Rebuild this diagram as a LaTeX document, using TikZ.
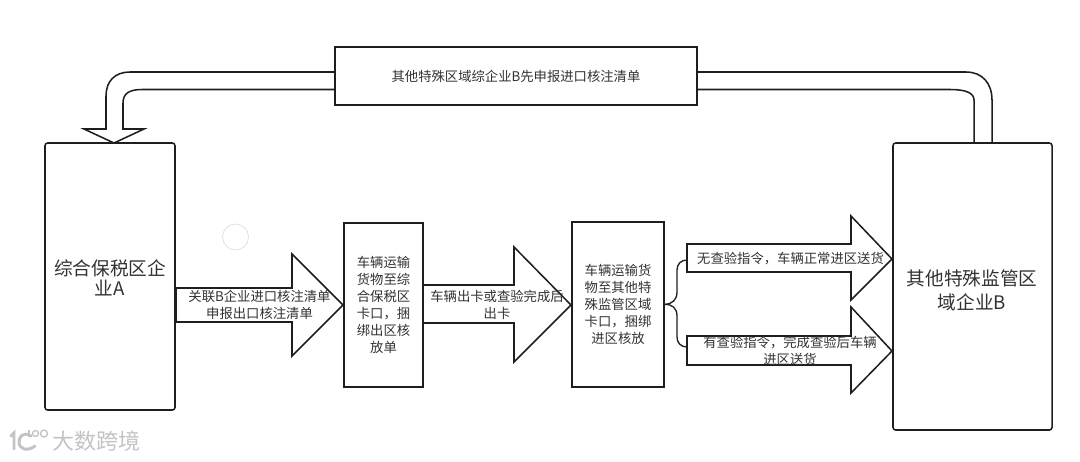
\documentclass[tikz,border=0pt]{standalone}
\usepackage{fontspec}
\setmainfont{Noto Sans CJK SC}
\usetikzlibrary{calc,positioning}
\definecolor{inkline}{RGB}{30,30,30}
\definecolor{inktext}{RGB}{50,50,50}
\definecolor{wmgray}{RGB}{195,195,195}
\def\px{0.75pt}
\tikzset{
  procbox/.style={draw=inkline,line width=1.15pt,inner sep=0pt,align=center,text=inktext,
    font=\fontsize{10}{12.75}\selectfont},
  firmbox/.style={procbox,rounded corners=2pt},
  blockline/.style={draw=inkline,line width=1.15pt,line join=miter},
  arrowtext/.style={inner sep=0pt,align=center,text=inktext,font=\fontsize{10}{12.75}\selectfont},
  firmtext/.style={arrowtext,font=\fontsize{14}{15}\selectfont},
}
\begin{document}
\begin{tikzpicture}[x=0.75pt,y=-0.75pt]
  \useasboundingbox (0,0) rectangle (1080,461);
  % boxes
  \node[firmbox,minimum width=130*\px,minimum height=267*\px] (firmA) at (110,276.5) {};
  \node[firmbox,minimum width=159*\px,minimum height=287*\px] (firmB) at (972.5,286.5) {};
  \node[firmtext] (firmAtext) at (110,278) {综合保税区企\\业A};
  \node[firmtext] (firmBtext) at (972,290.5) {其他特殊监管区\\[3.5pt]域企业B};
  \node[procbox,minimum width=362*\px,minimum height=58*\px] (notice) at (516,76) {其他特殊区域综企业B先申报进口核注清单};
  \node[procbox,minimum width=79*\px,minimum height=164*\px] (gateA) at (383.5,305) {车辆运输\\货物至综\\合保税区\\卡口，捆\\绑出区核\\放单};
  \node[procbox,minimum width=92*\px,minimum height=165*\px] (gateB) at (618,304.5) {车辆运输货\\物至其他特\\殊监管区域\\卡口，捆绑\\进区核放};
  % top bent arrow, from the notice box to A
  \coordinate (tipA) at (114,143);
  \draw[blockline] (notice.west |- 0,72) -- (130,72) .. controls (115,72) and (106,81) .. (106,96)
    -- (106,129) -- (84,129) -- (tipA) -- (144,129) -- (123,129) -- (123,103)
    .. controls (123,93) and (130,89.5) .. (142,89.5) -- (notice.west |- 0,89.5);
  % top tube, from B to the notice box
  \draw[blockline] (notice.east |- 0,72) -- (966,72) .. controls (982,72) and (992,83) .. (992,100) -- (992,143);
  \draw[blockline] (notice.east |- 0,89.5) -- (950,89.5) .. controls (966,89.5) and (974,93) .. (974,100) -- (974,143);
  % block arrows: tail x / shaft top / shaft bottom / head x / head top / head bottom / tip x / tip y
  \foreach \tx/\sa/\sb/\hx/\ha/\hb/\qx/\qy in {176/288/322/292/254/356/343/305,
      423/285/323/514/247/362/571/305,
      687/244/272/851/216/300/892/259,
      687/336/365/851/307/393/892/351} {
    \draw[blockline] (\tx,\sa) -- (\hx,\sa) -- (\hx,\ha) -- (\qx,\qy) -- (\hx,\hb) -- (\hx,\sb) -- (\tx,\sb) -- cycle;
  }
  % brace from gate B to the two arrows
  \coordinate (brA) at (687,260);
  \coordinate (brB) at (687,347);
  \draw[blockline,line width=1pt] (gateB.east) .. controls (672,304) and (677,300) .. (677,292) -- (677,270)
    .. controls (677,264) and (681,260) .. (brA);
  \draw[blockline,line width=1pt] (gateB.east) .. controls (672,304) and (677,308) .. (677,316) -- (677,337)
    .. controls (677,343) and (681,347) .. (brB);
  % arrow labels
  \node[arrowtext] (lblA) at (259.5,305) {关联B企业进口核注清单\\申报出口核注清单};
  \node[arrowtext] (lblB) at (497,305) {车辆出卡或查验完成后\\出卡};
  \node[arrowtext] (lblC) at (790.5,259) {无查验指令，车辆正常进区送货};
  \node[arrowtext] (lblD) at (790,351) {有查验指令，完成查验后车辆\\进区送货};
  % faint ring
  \draw[black!12,line width=0.6pt] (235.5,237) circle (13);
  % watermark
  \draw[wmgray,line width=2.2pt,line cap=round] (11,436) -- (14,433) -- (14,449);
  \draw[wmgray,line width=2.2pt,line cap=round] (31,436) .. controls (23,431) and (19,437) .. (19,442)
    .. controls (19,449) and (27,452) .. (35,446);
  \draw[wmgray,line width=1pt] (29,430) -- (29,437);
  \draw[wmgray,line width=1pt] (35.5,433.5) circle (3) (44,433.5) circle (3.5);
  \node[inner sep=0pt,text=wmgray,font=\fontsize{16.5}{18}\selectfont] (markText) at (96,441) {大数跨境};
\end{tikzpicture}
\end{document}
